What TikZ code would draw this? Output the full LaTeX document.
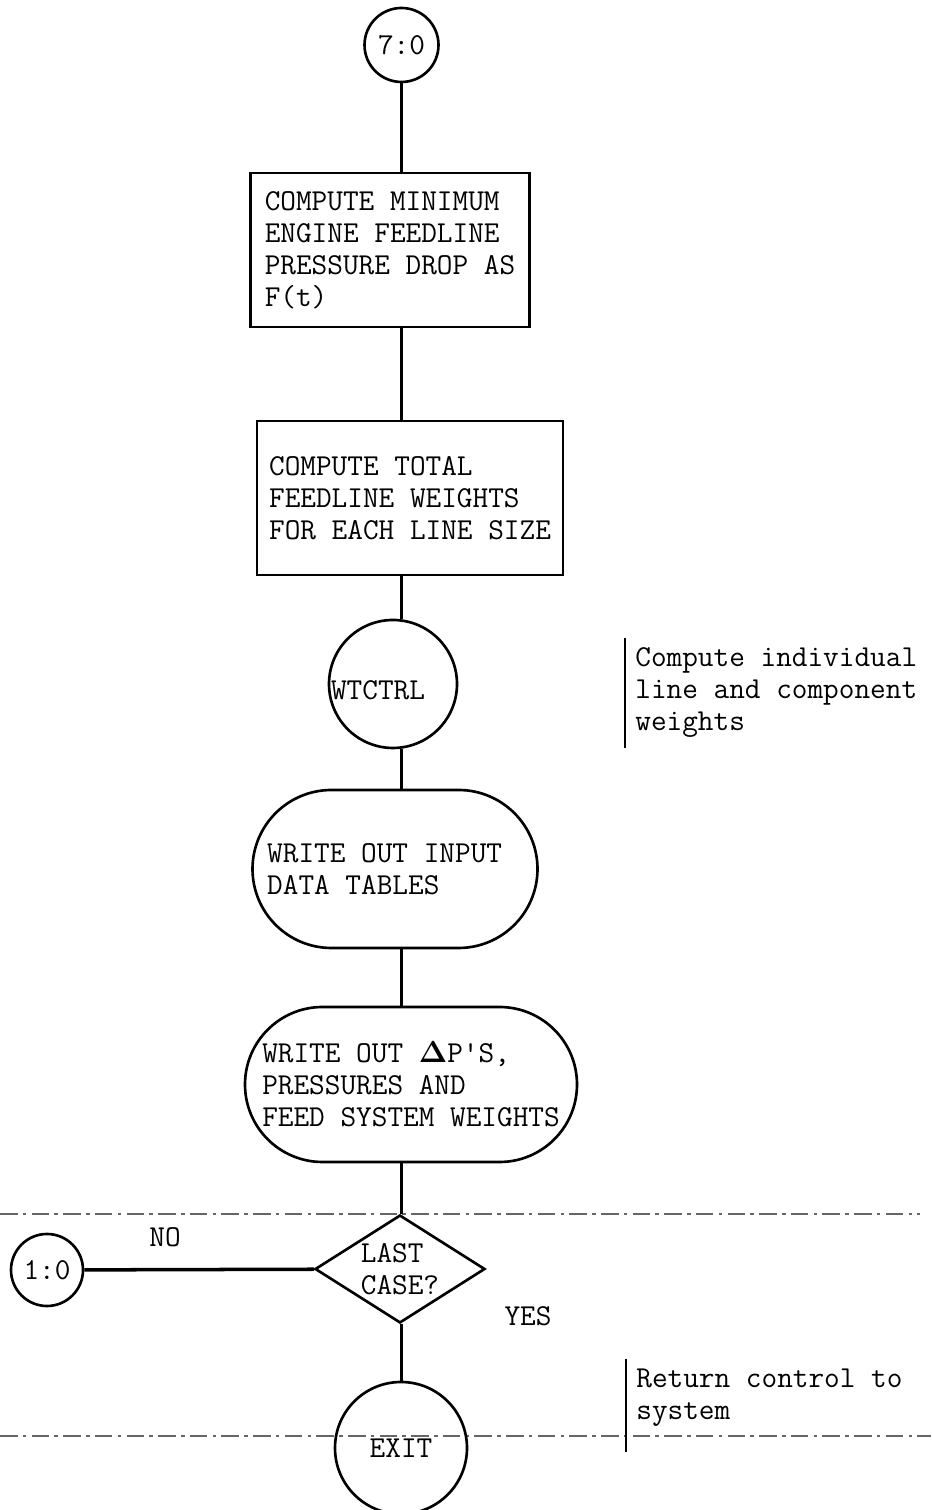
\documentclass[tikz,border=0pt]{standalone}
\usepackage{amsmath,bm}
\usepackage{fontspec}
\usepackage{tikz}
\usetikzlibrary{positioning,calc,shapes.geometric}
\newcommand{\typew}{\fontsize{17.3}{18.2}\selectfont\ttfamily}
\tikzset{
  % plain outlined shapes, typewriter text
  box/.style   = {rectangle, draw, line width=1.5pt, align=left, font=\typew, inner sep=0pt},
  term/.style  = {box, rounded corners=#1},
  conn/.style  = {circle, draw, line width=1.5pt, inner sep=0pt, font=\typew, minimum size=#1},
  dec/.style   = {diamond, draw, line width=1.5pt, aspect=1.6, inner sep=0pt, align=left,
                  font=\typew, minimum width=3.4cm, minimum height=2.16cm},
  flow/.style  = {line width=1.5pt},
  tag/.style   = {font=\typew},
  note/.style  = {font=\typew, align=left, anchor=west, inner xsep=0.2cm, inner ysep=0.2cm},
  scan/.style  = {line width=0.6pt, black!60, dash pattern=on 10pt off 3pt on 2pt off 3pt},
}
\begin{document}
\begin{tikzpicture}
\path[use as bounding box, fill=white] (0,0) rectangle (18.62,30.2);
% page marks of the scan
\draw[scan] (0,5.92) -- (18.4,5.92);
\draw[scan] (0,1.48) -- (18.62,1.48);
\coordinate (spine) at (8.03,0);
\node[conn=1.48cm] (c70) at (8.03,29.30) {7:0};
\node[box, minimum width=5.58cm, minimum height=3.08cm] (cmp) at (7.80,25.20)
  {COMPUTE MINIMUM\\ENGINE FEEDLINE\\PRESSURE DROP AS\\F(t)};
\node[box, minimum width=6.12cm, minimum height=3.08cm] (tot) at (8.20,20.24)
  {COMPUTE TOTAL\\FEEDLINE WEIGHTS\\FOR EACH LINE SIZE};
\node[conn=2.56cm] (wtc) at (7.86,16.52) {};
\node[tag] (wtct) at (7.56,16.40) {WTCTRL};
\node[term=1.58cm, minimum width=5.70cm, minimum height=3.16cm] (inp) at (7.90,12.82) {};
\node[tag, align=left, anchor=west] (inpt) at (5.22,12.82) {WRITE OUT INPUT\\DATA TABLES};
\node[term=1.55cm, minimum width=6.64cm, minimum height=3.10cm] (dp) at (8.22,8.51)
  {WRITE OUT $\bm{\Delta}$P'S,\\PRESSURES AND\\FEED SYSTEM WEIGHTS};
\node[dec] (last) at (8.00,4.82) {LAST\\CASE?};
\node[conn=1.44cm] (c10) at (0.94,4.80) {1:0};
\node[conn=2.64cm] (exit) at (8.02,1.24) {EXIT};
\foreach \a/\b in {c70/cmp,cmp/tot,tot/wtc,wtc/inp,inp/dp,dp/last,last/exit}
  {\draw[flow] (\a.south -| spine) -- (\b.north -| spine);}
\draw[flow, line width=2pt] (c10) -- (last);
\node[tag] (no) at (3.30,5.46) {NO};
\node[tag] (yes) at (10.56,3.88) {YES};
% side remarks
\node[note] (n1) at (12.50,16.34) {Compute individual\\line and component\\weights};
\draw[line width=1.5pt] (n1.north west) -- (n1.south west);
\node[note] (n2) at (12.52,2.24) {Return control to\\system};
\draw[line width=1.5pt] (n2.north west) -- ([yshift=-0.3cm]n2.south west);
\end{tikzpicture}
\end{document}
